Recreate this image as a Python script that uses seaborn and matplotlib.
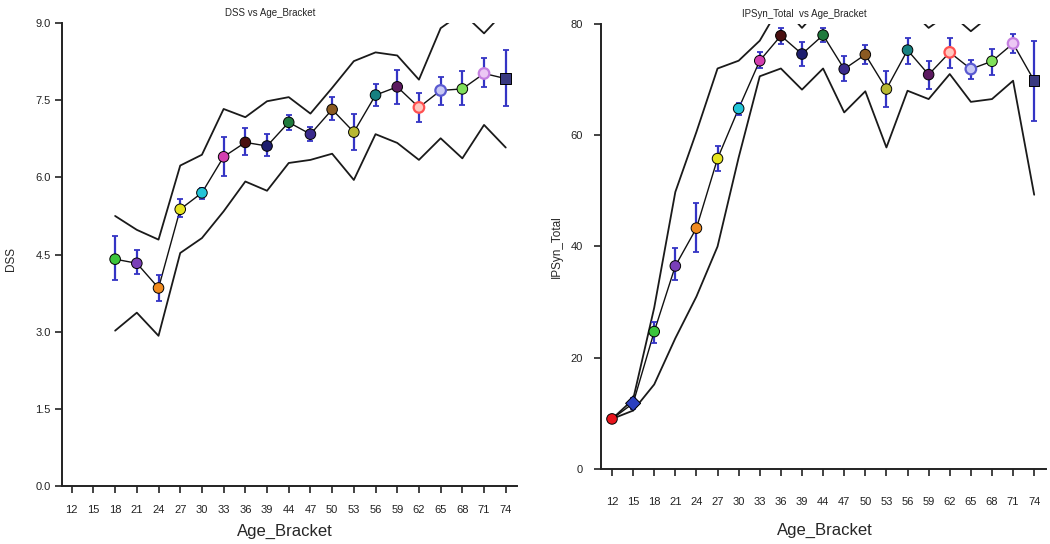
import numpy as np
import pandas as pd
import matplotlib
matplotlib.use("Agg")
import matplotlib.pyplot as plt
import seaborn as sns

nan = np.nan

ages = [12, 15, 18, 21, 24, 27, 30, 33, 36, 39, 44, 47, 50, 53, 56, 59, 62, 65, 68, 71, 74]

# DSS panel
dss_mean = [nan, nan, 4.41, 4.33, 3.85, 5.38, 5.70, 6.40, 6.68, 6.61, 7.07, 6.84, 7.32, 6.88,
            7.60, 7.76, 7.36, 7.69, 7.72, 8.02, 7.92]
dss_lo = [nan, nan, 4.01, 4.12, 3.59, 5.23, 5.58, 6.03, 6.43, 6.41, 6.93, 6.70, 7.12, 6.54,
          7.39, 7.43, 7.07, 7.41, 7.41, 7.76, 7.38]
dss_hi = [nan, nan, 4.86, 4.58, 4.10, 5.58, 5.80, 6.78, 6.96, 6.84, 7.22, 6.98, 7.56, 7.23,
          7.82, 8.09, 7.64, 7.95, 8.06, 8.32, 8.47]
dss_upper = [nan, nan, 5.25, 4.98, 4.79, 6.23, 6.44, 7.33, 7.17, 7.48, 7.56, 7.24, 7.74, 8.26,
             8.43, 8.37, 7.90, 8.90, 9.20, 8.80, 9.25]
dss_lower = [nan, nan, 3.02, 3.37, 2.92, 4.53, 4.82, 5.34, 5.92, 5.74, 6.28, 6.34, 6.46, 5.95,
             6.84, 6.67, 6.34, 6.76, 6.37, 7.02, 6.58]

# IPSyn panel
ips_mean = [9.0, 11.8, 24.7, 36.5, 43.3, 55.8, 64.8, 73.4, 77.9, 74.6, 78.0, 71.9, 74.5, 68.3,
            75.3, 70.9, 74.9, 71.9, 73.3, 76.5, 69.8]
ips_lo = [9.0, 10.8, 22.6, 34.0, 39.0, 53.5, 63.7, 72.1, 76.4, 72.4, 76.7, 69.8, 72.8, 65.1,
          72.8, 68.3, 72.1, 70.1, 70.9, 74.8, 62.5]
ips_hi = [9.0, 12.8, 26.5, 39.7, 47.8, 58.1, 65.8, 74.9, 79.3, 76.7, 79.3, 74.2, 76.3, 71.5,
          77.5, 73.3, 77.5, 73.6, 75.5, 78.2, 77.0]
ips_upper = [9.0, 12.5, 29.0, 49.8, 60.6, 72.0, 73.4, 77.0, 83.5, 79.3, 83.5, 81.5, 82.0, 80.8,
             83.0, 79.3, 82.0, 78.7, 81.8, 83.0, 90.0]
ips_lower = [9.0, 10.5, 15.2, 23.5, 31.0, 40.0, 56.0, 70.6, 72.0, 68.2, 72.0, 64.1, 67.9, 57.8,
             68.0, 66.5, 71.0, 66.0, 66.5, 69.8, 49.3]

colors = ['#e8141c', '#2b3fc0', '#3cc43c', '#7a3fb8', '#f08a1e', '#e6e41e', '#22c4d8',
          '#d43fb0', '#4a1010', '#1e1e6e', '#1f7a3c', '#3a2a8c', '#8a5a22', '#b8b832',
          '#178080', '#5c1a60', '#ff5050', '#5a5ad0', '#80e05a', '#c47ee0', '#3a3a80']
fills_open = {62: '#ffc8c0', 65: '#c8c8f4', 71: '#ecc8f4'}
markers = {a: 'o' for a in ages}
markers[15] = 'D'
markers[74] = 's'

sns.set_style("white")
plt.rcParams['font.family'] = ['Liberation Sans', 'DejaVu Sans']

fig = plt.figure(figsize=(10.5, 5.44), dpi=100)
ax1 = fig.add_axes([0.059, 0.1066, 0.433, 0.851])
ax2 = fig.add_axes([0.5724, 0.1379, 0.4236, 0.818])


def draw_panel(ax, mean, lo, hi, upper, lower, ylabel, title):
    df = pd.DataFrame({'Age': ages, 'pos': np.arange(len(ages)), 'mean': mean,
                       'lo': lo, 'hi': hi, 'upper': upper, 'lower': lower})
    df = df.dropna(subset=['mean']).reset_index(drop=True)
    pal = dict(zip(ages, colors))

    sns.lineplot(data=df, x='pos', y='upper', color='#1a1a1a', lw=1.3, ax=ax, zorder=1)
    sns.lineplot(data=df, x='pos', y='lower', color='#1a1a1a', lw=1.3, ax=ax, zorder=1)
    sns.lineplot(data=df, x='pos', y='mean', color='#111111', lw=1.0, ax=ax, zorder=2)
    ax.errorbar(df['pos'], df['mean'], yerr=[df['mean'] - df['lo'], df['hi'] - df['mean']],
                fmt='none', ecolor='#3434c4', elinewidth=1.6, capsize=2.2, capthick=1.3, zorder=3)

    closed = df[~df['Age'].isin(fills_open.keys())]
    sns.scatterplot(data=closed, x='pos', y='mean', hue='Age', palette=pal, style='Age',
                    markers={a: markers[a] for a in closed['Age']}, s=58, edgecolor='black',
                    linewidth=0.7, legend=False, ax=ax, zorder=4)
    opened = df[df['Age'].isin(fills_open.keys())]
    sns.scatterplot(data=opened, x='pos', y='mean', hue='Age',
                    palette={a: fills_open[a] for a in opened['Age']}, s=58,
                    edgecolor=[pal[a] for a in opened['Age']], linewidth=1.6,
                    legend=False, ax=ax, zorder=4)

    ax.set_xticks(np.arange(len(ages)))
    ax.set_xticklabels([str(a) for a in ages])
    ax.set_title(title, fontsize=7, x=0.457, pad=5)
    ax.set_xlabel('Age_Bracket', fontsize=12)
    ax.set_ylabel(ylabel, fontsize=8.5)
    for s in ['top', 'right']:
        ax.spines[s].set_visible(False)
    for s in ['left', 'bottom']:
        ax.spines[s].set_color('#222222')
        ax.spines[s].set_linewidth(1.4)
    ax.tick_params(axis='both', direction='out', colors='#222222', labelsize=8, width=1.2,
                   bottom=True, left=True)


draw_panel(ax1, dss_mean, dss_lo, dss_hi, dss_upper, dss_lower, 'DSS', 'DSS vs Age_Bracket')
ax1.set_xlim(-0.45, 20.5)
ax1.set_ylim(0, 9.0)
ax1.set_yticks([0, 1.5, 3.0, 4.5, 6.0, 7.5, 9.0])
ax1.set_yticklabels(['0.0', '1.5', '3.0', '4.5', '6.0', '7.5', '9.0'])
ax1.tick_params(axis='x', length=5, pad=9)
ax1.tick_params(axis='y', length=5, pad=3)
ax1.xaxis.set_label_coords(0.49, -0.082)
ax1.yaxis.set_label_coords(-0.099, 0.49)

draw_panel(ax2, ips_mean, ips_lo, ips_hi, ips_upper, ips_lower, 'IPSyn_Total',
           'IPSyn_Total  vs Age_Bracket')
ax2.set_xlim(-0.52, 20.55)
ax2.set_ylim(0, 80)
ax2.set_yticks([0, 20, 40, 60, 80])
ax2.tick_params(axis='x', length=5, pad=15)
ax2.tick_params(axis='y', length=5, pad=8)
ax2.xaxis.set_label_coords(0.503, -0.12)
ax2.yaxis.set_label_coords(-0.085, 0.5)

fig.savefig('out.png', dpi=100)
